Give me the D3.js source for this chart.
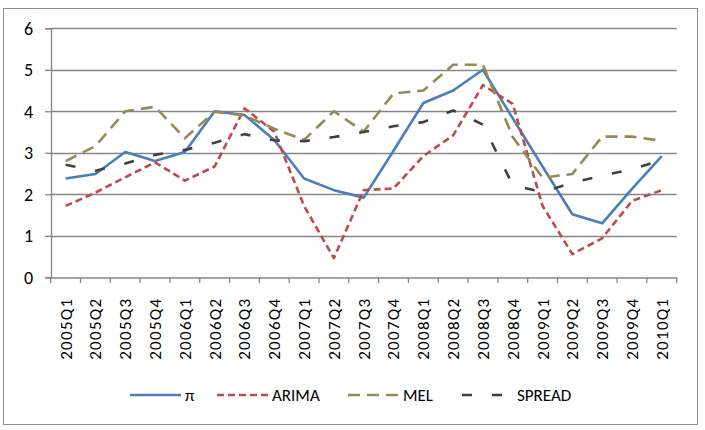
<!DOCTYPE html>
<html>
<head>
<meta charset="utf-8">
<script src="https://cdn.jsdelivr.net/npm/d3@7"></script>
<style>
  html, body { margin: 0; padding: 0; background: #fff; }
  svg { display: block; }
  text { font-family: Carlito, Lato, "Open Sans", sans-serif; fill: #000; }
</style>
</head>
<body>
<svg id="chart" width="705" height="430"></svg>
<script>
const categories = ["2005Q1","2005Q2","2005Q3","2005Q4","2006Q1","2006Q2","2006Q3","2006Q4",
  "2007Q1","2007Q2","2007Q3","2007Q4","2008Q1","2008Q2","2008Q3","2008Q4",
  "2009Q1","2009Q2","2009Q3","2009Q4","2010Q1"];
const piValues     = [2.38, 2.49, 3.02, 2.80, 3.02, 4.00, 3.91, 3.31, 2.38, 2.10, 1.92, 3.05, 4.20, 4.50, 5.00, 3.83, 2.67, 1.52, 1.30, 2.13, 2.92];
const arimaValues  = [1.72, 2.04, 2.41, 2.77, 2.33, 2.67, 4.07, 3.51, 1.72, 0.46, 2.10, 2.14, 2.92, 3.42, 4.63, 4.18, 1.72, 0.56, 0.94, 1.84, 2.10];
const melValues    = [2.80, 3.16, 4.00, 4.11, 3.35, 3.99, 3.90, 3.58, 3.31, 4.00, 3.51, 4.43, 4.50, 5.12, 5.12, 3.38, 2.40, 2.49, 3.39, 3.39, 3.29];
const spreadValues = [2.71, 2.57, 2.74, 2.95, 3.07, 3.24, 3.45, 3.30, 3.28, 3.38, 3.50, 3.64, 3.74, 4.02, 3.68, 2.22, 2.05, 2.28, 2.45, 2.60, 2.83];
const yTicks = [0, 1, 2, 3, 4, 5, 6];
const seriesNames = ["π", "ARIMA", "MEL", "SPREAD"];
const seriesColors = ["#4A7EBB", "#BE4B48", "#948A54", "#404040"];
const seriesDash = [null, "7,4", "12,7", "10,20"];
const seriesData = [piValues, arimaValues, melValues, spreadValues];

const svg = d3.select("#chart");
const gridColor = "#868686";

// outer border
svg.append("rect").attr("x", 3.5).attr("y", 8.5).attr("width", 694).attr("height", 416)
  .attr("fill", "none").attr("stroke", "#8c8c8c").attr("stroke-width", 1);

const x = d3.scaleBand().domain(categories).range([50.7, 676.7]);
const y = d3.scaleLinear().domain([0, 6]).range([277.3, 28.3]);

// gridlines
svg.append("g").selectAll("line").data(yTicks.filter(d => d > 0)).join("line")
  .attr("x1", 50.7).attr("x2", 676.7)
  .attr("y1", d => Math.round(y(d)) + 0.5).attr("y2", d => Math.round(y(d)) + 0.5)
  .attr("stroke", gridColor).attr("stroke-width", 1.3);

// y axis
const yAxis = d3.axisLeft(y).tickValues(yTicks).tickSize(6).tickPadding(12).tickFormat(d3.format("d"));
const gy = svg.append("g").attr("transform", "translate(51,0)").call(yAxis);
gy.select(".domain").attr("stroke", gridColor).attr("stroke-width", 1.3);
gy.selectAll(".tick line").attr("stroke", gridColor).attr("stroke-width", 1.3);
gy.selectAll(".tick text").style("font-size", "18px").attr("fill", "#000");

// x axis
const xAxis = d3.axisBottom(x).tickSize(0).tickFormat(d => d);
const gx = svg.append("g").attr("transform", "translate(0,277.5)").call(xAxis);
gx.select(".domain").attr("stroke", gridColor).attr("stroke-width", 1.3);
gx.selectAll(".tick text")
  .style("font-size", "17px")
  .style("letter-spacing", "1.3px")
  .attr("text-anchor", "end")
  .attr("transform", "rotate(-90)")
  .attr("x", -20).attr("y", 0).attr("dy", "0.35em");
// boundary ticks
const bounds = categories.map(c => x(c)).concat([x(categories[categories.length - 1]) + x.bandwidth()]);
svg.append("g").selectAll("line").data(bounds).join("line")
  .attr("x1", d => d).attr("x2", d => d).attr("y1", 277.5).attr("y2", 283)
  .attr("stroke", gridColor).attr("stroke-width", 1.3);

// lines
const line = d3.line().x((d, i) => x(categories[i]) + x.bandwidth() / 2).y(d => y(d));
seriesData.forEach((vals, k) => {
  svg.append("path").datum(vals)
    .attr("d", line)
    .attr("fill", "none")
    .attr("stroke", seriesColors[k])
    .attr("stroke-width", 2.6)
    .attr("stroke-dasharray", seriesDash[k])
    .attr("stroke-linejoin", "round");
});

// legend
const legendX = [130, 217, 348, 462];
const lg = svg.append("g");
seriesNames.forEach((name, k) => {
  lg.append("line").attr("x1", legendX[k]).attr("x2", legendX[k] + 51)
    .attr("y1", 395).attr("y2", 395)
    .attr("stroke", seriesColors[k]).attr("stroke-width", 2.6)
    .attr("stroke-dasharray", seriesDash[k]);
  lg.append("text").attr("x", legendX[k] + 55).attr("y", 395).attr("dy", "0.35em")
    .style("font-size", "17px").text(name);
});
</script>
</body>
</html>
